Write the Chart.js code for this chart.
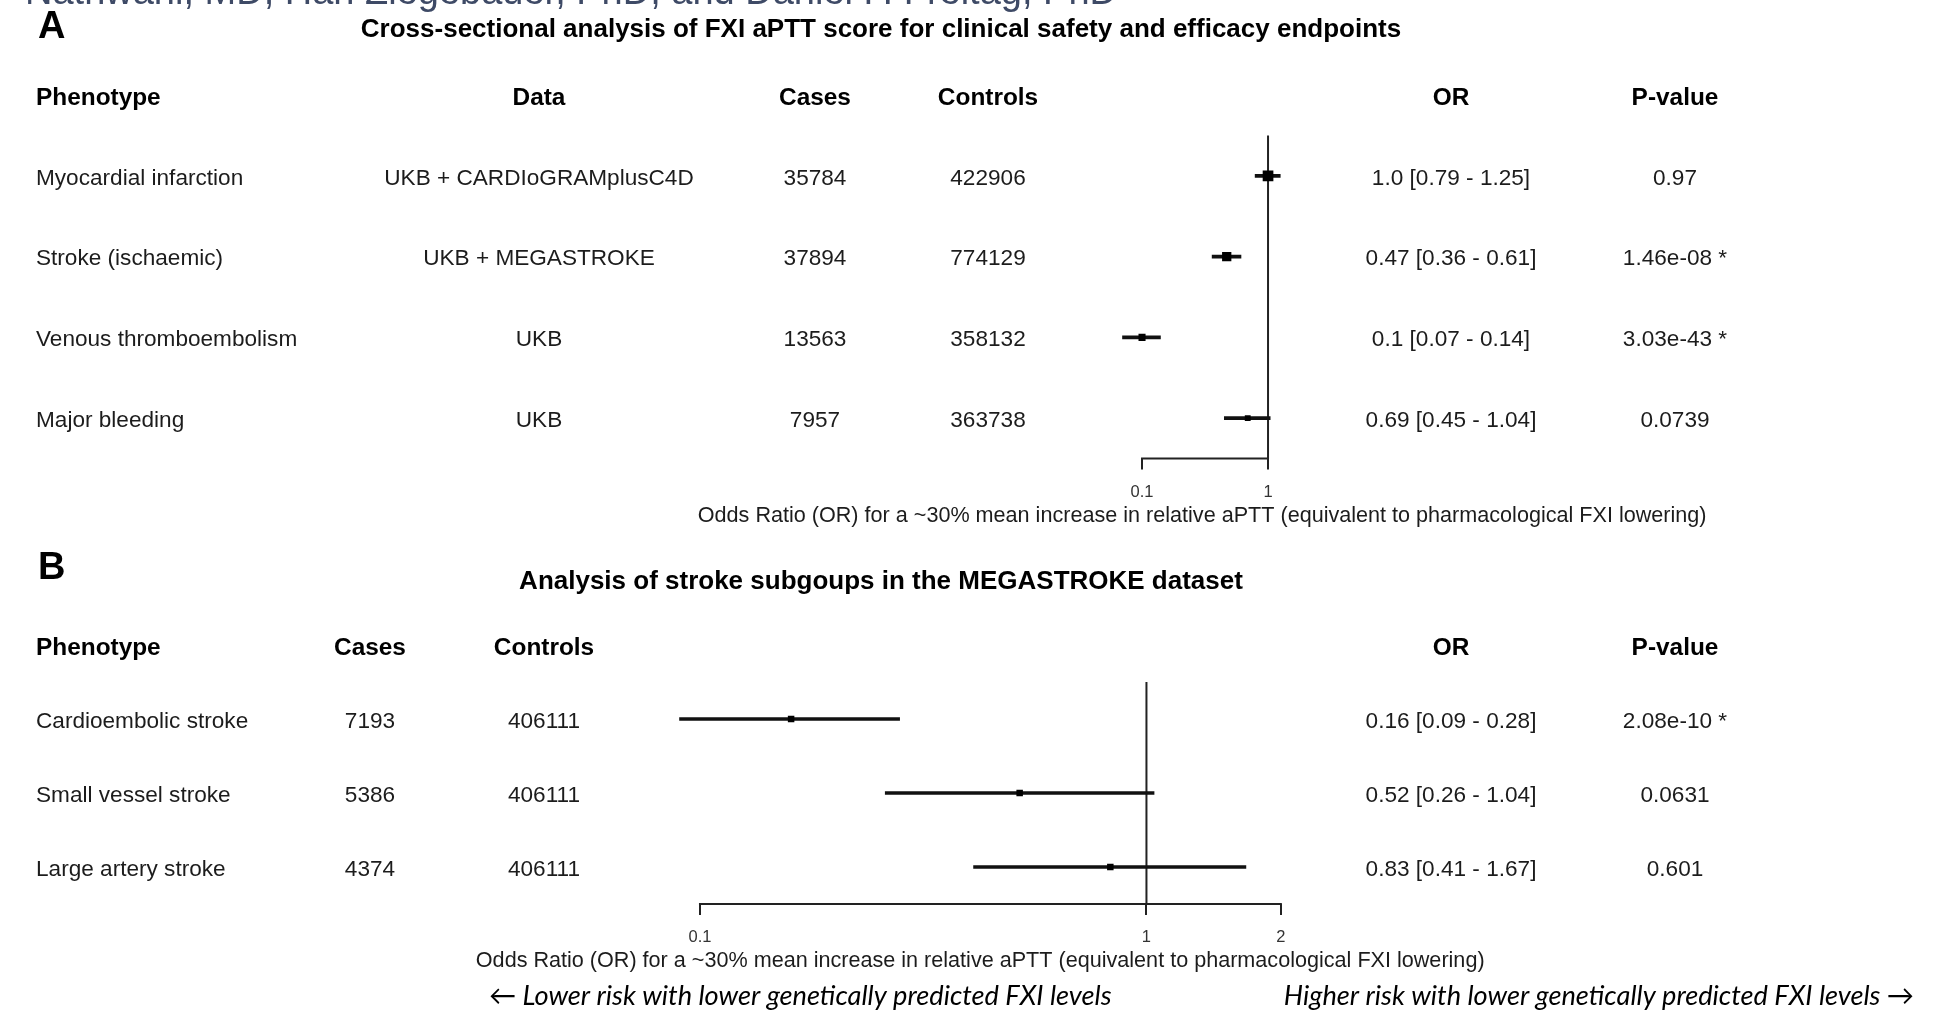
<!DOCTYPE html>
<html>
<head>
<meta charset="utf-8">
<title>FXI aPTT score forest plots</title>
<script src="https://cdn.jsdelivr.net/npm/chart.js@4.4.1/dist/chart.umd.min.js"></script>
<style>
  html, body { margin: 0; padding: 0; background: #ffffff; }
  #page { position: relative; width: 1933px; height: 1010px; overflow: hidden; background: #ffffff; }
  #page canvas { position: absolute; left: 0; top: 0; }
</style>
</head>
<body>
<div id="page">
  <canvas id="panelA" width="1933" height="1010"></canvas>
  <canvas id="panelB" width="1933" height="1010"></canvas>
</div>
<script>
// ---------- Panel A: clinical safety and efficacy endpoints ----------
const phenotypesA = ['Myocardial infarction', 'Stroke (ischaemic)', 'Venous thromboembolism', 'Major bleeding'];
const dataSourcesA = ['UKB + CARDIoGRAMplusC4D', 'UKB + MEGASTROKE', 'UKB', 'UKB'];
const casesA = [35784, 37894, 13563, 7957];
const controlsA = [422906, 774129, 358132, 363738];
const oddsRatioA = [1.0, 0.47, 0.1, 0.69];
const ciLowerA = [0.79, 0.36, 0.07, 0.45];
const ciUpperA = [1.25, 0.61, 0.14, 1.04];
const orLabelsA = ['1.0 [0.79 - 1.25]', '0.47 [0.36 - 0.61]', '0.1 [0.07 - 0.14]', '0.69 [0.45 - 1.04]'];
const pValuesA = ['0.97', '1.46e-08 *', '3.03e-43 *', '0.0739'];
const tickValuesA = [0.1, 1];
const tickLabelsA = ['0.1', '1'];

// ---------- Panel B: stroke subgroups in MEGASTROKE ----------
const phenotypesB = ['Cardioembolic stroke', 'Small vessel stroke', 'Large artery stroke'];
const casesB = [7193, 5386, 4374];
const controlsB = [406111, 406111, 406111];
const oddsRatioB = [0.16, 0.52, 0.83];
const ciLowerB = [0.09, 0.26, 0.41];
const ciUpperB = [0.28, 1.04, 1.67];
const orLabelsB = ['0.16 [0.09 - 0.28]', '0.52 [0.26 - 1.04]', '0.83 [0.41 - 1.67]'];
const pValuesB = ['2.08e-10 *', '0.0631', '0.601'];
const tickValuesB = [0.1, 1, 2];
const tickLabelsB = ['0.1', '1', '2'];

const axisTitle = 'Odds Ratio (OR) for a ~30% mean increase in relative aPTT (equivalent to pharmacological FXI lowering)';

// ---------- shared styling ----------
const SANS = '"Liberation Sans", Arial, Helvetica, sans-serif';
const NOTE = 'Lato, "Open Sans", "DejaVu Sans", sans-serif';
const INK = '#1c1c1c';
const W = 1933, H = 1010;
const AXIS_H = 45;
const TEXT_DY = 2.5; // optical centring of middle-baseline text

function put(ctx, s, x, y, font, align, color) {
  ctx.font = font;
  ctx.textAlign = align || 'left';
  ctx.textBaseline = 'middle';
  ctx.fillStyle = color || INK;
  ctx.fillText(s, x, y + TEXT_DY);
}

// reference line at OR = 1 and the axis line spanning the labelled ticks
const forestFrame = {
  id: 'forestFrame',
  beforeDatasetsDraw(chart) {
    const {ctx, chartArea} = chart;
    const x = chart.scales.x;
    const ticks = x.ticks;
    const ref = x.getPixelForValue(1);
    const a0 = x.getPixelForValue(ticks[0].value);
    const a1 = x.getPixelForValue(ticks[ticks.length - 1].value);
    ctx.save();
    ctx.strokeStyle = '#222';
    ctx.lineWidth = 2;
    ctx.beginPath();
    ctx.moveTo(ref, chartArea.top);
    ctx.lineTo(ref, chartArea.bottom);
    ctx.moveTo(a0 - 1, chartArea.bottom);
    ctx.lineTo(a1 + 1, chartArea.bottom);
    ctx.stroke();
    ctx.restore();
  }
};

// table columns, panel heading and axis caption, rows placed by the y scale
function tablePlugin(spec) {
  return {
    id: 'forestTable',
    afterDraw(chart) {
      const ctx = chart.ctx;
      const y = chart.scales.y;
      const x = chart.scales.x;
      ctx.save();
      put(ctx, spec.letter, 38, spec.letterY, 'bold 38px ' + SANS, 'left', '#000');
      put(ctx, spec.title, 881, spec.titleY, 'bold 26px ' + SANS, 'center', '#000');
      spec.columns.forEach(col => {
        put(ctx, col.header, col.x, spec.headerY, 'bold 24.4px ' + SANS, col.align, '#000');
        col.values.forEach((v, i) => {
          put(ctx, String(v), col.x, y.getPixelForValue(i), '22.6px ' + SANS, col.align, INK);
        });
      });
      put(ctx, axisTitle, (x.left + x.right) / 2, spec.axisTitleY, '21.6px ' + SANS, 'center', INK);
      if (spec.extra) spec.extra(ctx);
      ctx.restore();
    }
  };
}

function xScale(min, max, tickValues, tickLabels) {
  return {
    type: 'logarithmic',
    position: 'bottom',
    min: min,
    max: max,
    afterBuildTicks(axis) { axis.ticks = tickValues.map(v => ({value: v})); },
    afterFit(axis) { axis.height = AXIS_H; },
    ticks: {
      autoSkip: false,
      maxRotation: 0,
      padding: 13,
      color: '#333',
      font: {family: SANS, size: 16.5},
      callback: (v, i) => tickLabels[i]
    },
    grid: {display: true, drawOnChartArea: false, drawTicks: true, tickLength: 11, color: '#222', lineWidth: 2},
    border: {display: false}
  };
}

function forestChart(id, labels, or, lo, hi, markerSide, scaleX, padding, table) {
  return new Chart(document.getElementById(id), {
    type: 'bar',
    data: {
      labels: labels,
      datasets: [
        {
          type: 'scatter',
          label: 'Odds ratio',
          data: or.map((v, i) => ({x: v, y: labels[i]})),
          pointStyle: 'rect',
          pointRadius: c => markerSide(c.dataIndex) / Math.SQRT2,
          pointHoverRadius: c => markerSide(c.dataIndex) / Math.SQRT2,
          backgroundColor: '#000',
          borderColor: '#000',
          borderWidth: 0,
          order: 0
        },
        {
          type: 'bar',
          label: '95% CI',
          data: lo.map((l, i) => [l, hi[i]]),
          backgroundColor: '#111',
          borderWidth: 0,
          barThickness: 3,
          order: 1
        }
      ]
    },
    options: {
      indexAxis: 'y',
      responsive: false,
      animation: false,
      devicePixelRatio: 1,
      layout: {padding: padding},
      scales: {
        x: scaleX,
        y: {type: 'category', display: false, offset: true, grid: {display: false}}
      },
      plugins: {legend: {display: false}, tooltip: {enabled: false}, title: {display: false}}
    },
    plugins: [forestFrame, tablePlugin(table)]
  });
}

// Panel A: log axis 0.05 .. 1.8, one decade = 126 px
forestChart('panelA', phenotypesA, oddsRatioA, ciLowerA, ciUpperA,
  i => 4.9 / Math.log(ciUpperA[i] / ciLowerA[i]),
  xScale(0.05, 1.8, tickValuesA, tickLabelsA),
  {top: 135.6, bottom: H - 458.4 - AXIS_H, left: 1104.1, right: W - 1300.2},
  {
    letter: 'A', letterY: 25,
    title: 'Cross-sectional analysis of FXI aPTT score for clinical safety and efficacy endpoints', titleY: 27,
    headerY: 96, axisTitleY: 514,
    columns: [
      {header: 'Phenotype', x: 36, align: 'left', values: phenotypesA},
      {header: 'Data', x: 539, align: 'center', values: dataSourcesA},
      {header: 'Cases', x: 815, align: 'center', values: casesA},
      {header: 'Controls', x: 988, align: 'center', values: controlsA},
      {header: 'OR', x: 1451, align: 'center', values: orLabelsA},
      {header: 'P-value', x: 1675, align: 'center', values: pValuesA}
    ],
    extra(ctx) {
      // running author line of the page, cut by the top edge
      ctx.font = '38px ' + SANS;
      ctx.textAlign = 'left';
      ctx.textBaseline = 'alphabetic';
      ctx.fillStyle = '#3e4a66';
      ctx.fillText('Nathwani, MD; Han Ziegebauer, PhD; and Daniel F. Freitag, PhD', 25, 4);
    }
  });

// Panel B: log axis 0.08 .. 2.25, one decade = 446.5 px
forestChart('panelB', phenotypesB, oddsRatioB, ciLowerB, ciUpperB,
  i => 6.5,
  xScale(0.08, 2.25, tickValuesB, tickLabelsB),
  {top: 682, bottom: H - 904 - AXIS_H, left: 656.7, right: W - 1303.7},
  {
    letter: 'B', letterY: 566,
    title: 'Analysis of stroke subgoups in the MEGASTROKE dataset', titleY: 579,
    headerY: 646, axisTitleY: 959,
    columns: [
      {header: 'Phenotype', x: 36, align: 'left', values: phenotypesB},
      {header: 'Cases', x: 370, align: 'center', values: casesB},
      {header: 'Controls', x: 544, align: 'center', values: controlsB},
      {header: 'OR', x: 1451, align: 'center', values: orLabelsB},
      {header: 'P-value', x: 1675, align: 'center', values: pValuesB}
    ],
    extra(ctx) {
      put(ctx, '\u2190 Lower risk with lower genetically predicted FXI levels', 489, 994, 'italic 27.2px ' + NOTE, 'left', '#000');
      put(ctx, 'Higher risk with lower genetically predicted FXI levels \u2192', 1914, 994, 'italic 27.2px ' + NOTE, 'right', '#000');
    }
  });
</script>
</body>
</html>
